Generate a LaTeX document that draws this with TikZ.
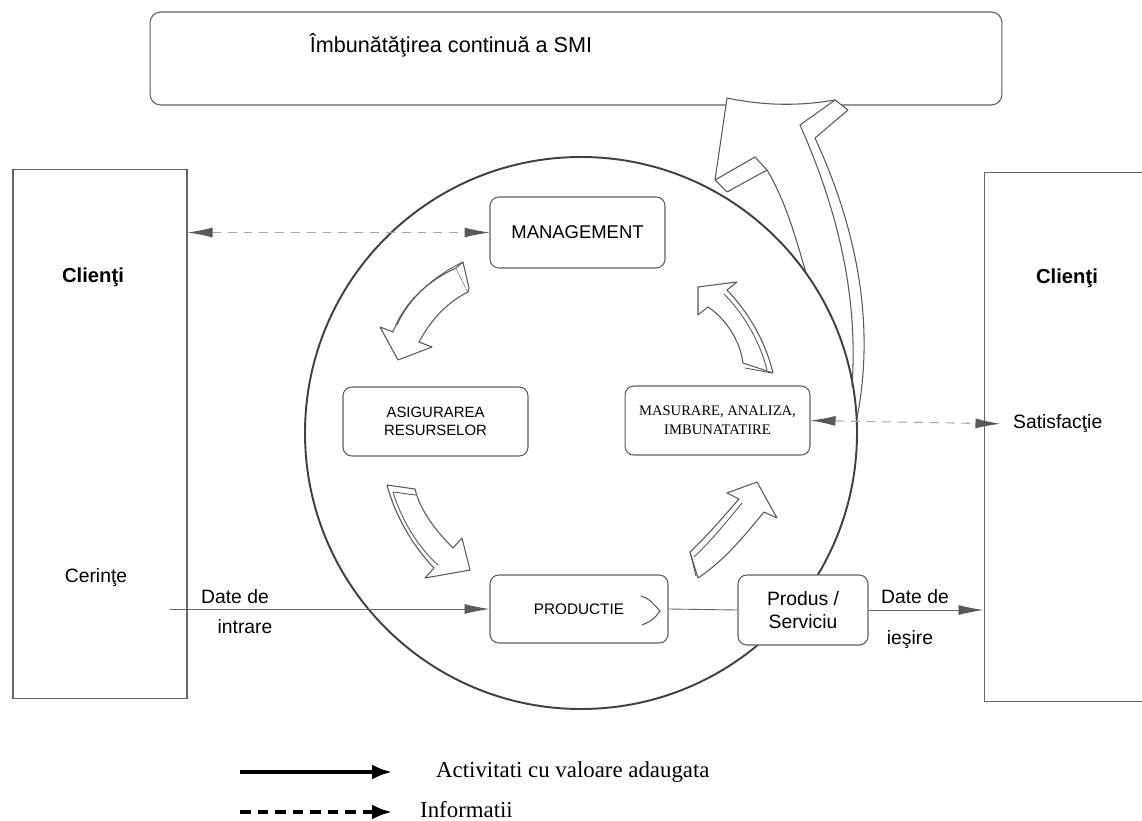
\documentclass[tikz,border=0pt]{standalone}
\usepackage{fontspec}
\setmainfont{Liberation Sans}
\newfontfamily\serif{Liberation Serif}
\usetikzlibrary{arrows.meta}

\begin{document}
\begin{tikzpicture}[x=0.02cm, y=-0.02cm,
  box/.style = {draw=gray!75!black, fill=white, line width=0.6pt, rounded corners=5pt, inner sep=0pt},
  client/.style = {draw=gray!80!black, line width=0.6pt, inner sep=0pt},
  flow/.style = {draw=gray!80!black, line width=0.5pt, -{Latex[length=5mm,width=2mm,gray!70!black]}},
  info/.style = {draw=gray!70, line width=0.6pt, dash pattern=on 5pt off 4pt, {Latex[length=5mm,width=2mm,gray!70!black]}-{Latex[length=5mm,width=2mm,gray!70!black]}},
  blk/.style = {draw=gray!70!black, fill=white, line width=0.6pt, line join=round},
  txt/.style = {font=\fontsize{11}{13}\selectfont, inner sep=1pt}]

\useasboundingbox (0,0) rectangle (1142,821);

% top box
\node[box, minimum width=17.04cm, minimum height=1.86cm, rounded corners=6pt] (smi) at (576,58.5) {};
\node[font=\fontsize{12.3}{15}\selectfont] (titlu) at (451,45) {Îmbunătăţirea continuă a SMI};

% clients
\node[client, minimum width=3.48cm, minimum height=10.6cm] (cl) at (100,434) {};
\node[client, minimum width=3.5cm, minimum height=10.6cm] (cr) at (1071.5,437) {};
\node[font=\fontsize{11.5}{14}\selectfont\bfseries] (clientL) at (93,277) {Clienţi};
\node[font=\fontsize{11.5}{14}\selectfont\bfseries] (clientR) at (1067,278) {Clienţi};
\node[txt] (cer) at (96,578) {Cerinţe};
\node[txt, anchor=west] (sat) at (1011,424) {Satisfacţie};

% big arrow to the top box
\fill[white] (727,98) .. controls (765,106) and (800,106) .. (835,100) -- (848,110) -- (815,138)
  .. controls (855,225) and (876,320) .. (857,418) -- (806,273)
  .. controls (795,235) and (785,200) .. (767,170) -- (727,192) -- (715,180) -- cycle;
\draw[gray!70!black, line width=0.6pt, line join=round]
  (715,180) -- (727,98) .. controls (765,106) and (800,106) .. (835,100) -- (848,110) -- (815,138)
  .. controls (855,225) and (876,320) .. (857,418);
\draw[gray!70!black, line width=0.6pt] (835,100) -- (800,125) .. controls (840,215) and (858,300) .. (852,386);
\draw[gray!70!black, line width=0.6pt, line join=round] (715,180) -- (727,192) -- (767,170)
  .. controls (785,200) and (795,235) .. (806,273);
\draw[gray!70!black, line width=0.6pt] (715,180) -- (755,157) -- (767,170);

% the circle
\draw[gray!50!black, line width=1.1pt] (581,433) circle [radius=276];

% small arrows round the circle
\draw[blk] (456,268) .. controls (430,280) and (405,300) .. (393,332) -- (380,327) -- (398,360)
  -- (432,347) -- (419,342) .. controls (432,318) and (448,302) .. (468,292) -- cycle;
\draw[blk] (456,268) -- (463,262) -- (469,288) -- (468,292);
\draw[gray!70!black, line width=0.5pt] (463,262) .. controls (436,275) and (410,296) .. (397,325);

\draw[blk] (387,485) -- (415,489) .. controls (420,510) and (435,530) .. (453,548) -- (462,538)
  -- (470,570) -- (425,578) -- (434,568) .. controls (412,545) and (395,515) .. (387,485) -- cycle;
\draw[gray!70!black, line width=0.5pt] (393,492) -- (416,495);
\draw[gray!70!black, line width=0.5pt] (393,492) .. controls (401,518) and (416,545) .. (438,565);

\draw[blk] (690,552) .. controls (708,535) and (725,515) .. (739,499) -- (727,493) -- (757,482)
  -- (777,518) -- (764,512) .. controls (745,535) and (725,560) .. (698,578) -- cycle;
\draw[gray!70!black, line width=0.5pt] (690,552) -- (696,576);
\draw[gray!70!black, line width=0.5pt] (694,557) .. controls (712,540) and (728,520) .. (742,503);

\draw[blk] (743,363) .. controls (740,340) and (725,318) .. (708,307) -- (698,315) -- (698,287)
  -- (737,282) -- (727,290) .. controls (748,312) and (765,340) .. (773,373) -- cycle;
\draw[gray!70!black, line width=0.5pt] (745,368) -- (772,373);
\draw[gray!70!black, line width=0.5pt] (767,370) .. controls (760,342) and (744,314) .. (724,294);

% process boxes
\node[box, minimum width=3.5cm, minimum height=1.42cm, font=\fontsize{10.5}{12}\selectfont] (mgmt) at (577.5,232.5) {MANAGEMENT};
\node[box, minimum width=3.7cm, minimum height=1.38cm, align=center, font=\fontsize{8.5}{10.5}\selectfont] (asig) at (435.5,421.5) {ASIGURAREA\\RESURSELOR};
\node[box, minimum width=3.7cm, minimum height=1.38cm, align=center, font=\serif\fontsize{8.3}{11}\selectfont] (mas) at (717.5,420.5) {MASURARE, ANALIZA,\\IMBUNATATIRE};
\node[box, minimum width=3.56cm, minimum height=1.36cm, font=\fontsize{8.7}{10}\selectfont] (prod) at (579,609) {PRODUCTIE};
\node[box, minimum width=2.6cm, minimum height=1.4cm, align=center, font=\fontsize{11}{13.5}\selectfont] (ps) at (803,610) {Produs /\\Serviciu};
\draw[gray!70!black, line width=0.6pt] (641,596) .. controls (649,599) .. (660,611) .. controls (653,620) .. (642,625);

% connectors
\coordinate (din) at (170,609);
\draw[flow] (din) -- (prod.west);
\draw[gray!80!black, line width=0.5pt] (prod.east) -- (ps.west);
\draw[flow] (ps.east) -- (cr.west |- ps.east);
\draw[info] (cl.east |- mgmt.west) -- (mgmt.west);
\draw[info, shorten >=6pt] (mas.east) -- (sat.west);

\node[txt] (din1) at (235,597) {Date de};
\node[txt] (din2) at (245,627) {intrare};
\node[txt] (die1) at (915,597) {Date de};
\node[txt] (die2) at (910,640) {ieşire};

% legend
\coordinate (l1a) at (240,772);
\coordinate (l1b) at (392,772);
\coordinate (l2a) at (240,812);
\coordinate (l2b) at (392,812);
\draw[black, line width=2pt, -{Latex[length=4mm,width=3mm]}] (l1a) -- (l1b);
\draw[black, line width=2pt, dash pattern=on 6pt off 4pt, -{Latex[length=4mm,width=3mm]}] (l2a) -- (l2b);
\node[anchor=west, font=\serif\fontsize{13}{15}\selectfont] (leg1) at (430,772) {Activitati cu valoare adaugata};
\node[anchor=west, font=\serif\fontsize{13}{15}\selectfont] (leg2) at (414,810) {Informatii};

\end{tikzpicture}
\end{document}
